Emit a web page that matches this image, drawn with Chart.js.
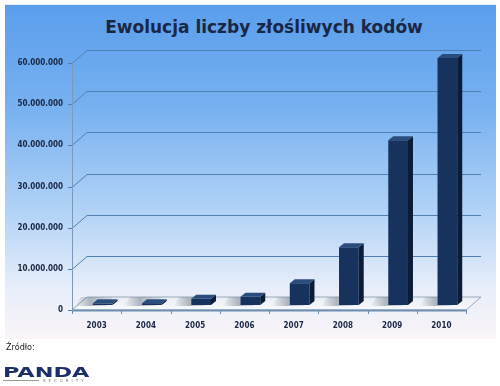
<!DOCTYPE html>
<html>
<head>
<meta charset="utf-8">
<script src="https://cdn.jsdelivr.net/npm/chart.js@4/dist/chart.umd.min.js"></script>
<style>
  html, body { margin: 0; padding: 0; background: #fff; }
  #wrap { position: relative; width: 500px; height: 386px; overflow: hidden; }
  #panel {
    position: absolute; left: 5px; top: 4px; width: 491px; height: 334px;
    background: linear-gradient(to bottom, #5a9eec 0%, #76b0f0 30%, #b2d3f6 62%, #e8eefa 85%, #faf5f8 100%);
    border-top: 1px solid #e6f0fb;
  }
  #title {
    position: absolute; left: 0; top: 17px; width: 528px; text-align: center;
    font: bold 17px "DejaVu Sans", Verdana, sans-serif; color: #1a2744;
  }
  #src {
    position: absolute; left: 6px; top: 342px;
    font: 9px "DejaVu Sans Condensed", "DejaVu Sans", sans-serif; color: #222;
  }
  #logo { position: absolute; left: 3px; top: 364px; width: 95px; height: 22px; }
  #logo .p {
    position: absolute; left: 0; top: 0; font: 900 14px "DejaVu Sans", sans-serif;
    color: #1b2f6a; transform: scaleX(1.6); transform-origin: left top;
  }
  #logo .s {
    position: absolute; left: 40px; top: 14px; font: 4px "DejaVu Sans", sans-serif;
    color: #777; letter-spacing: 3px;
  }
  #logo .l { position: absolute; left: 0; top: 16px; width: 36px; height: 1px; background: #999; }
  canvas { position: absolute; left: 0; top: 0; }
</style>
</head>
<body>
<div id="wrap">
  <div id="panel"></div>
  <div id="title">Ewolucja liczby złośliwych kodów</div>
  <canvas id="c" width="500" height="386"></canvas>
  <div id="src">Źródło:</div>
  <div id="logo"><div class="p">PANDA</div><div class="l"></div><div class="s">SECURITY</div></div>
</div>
<script>
var years = ['2003', '2004', '2005', '2006', '2007', '2008', '2009', '2010'];
var codes = [400000, 450000, 1500000, 2000000, 5300000, 14000000, 40000000, 60000000];
var yMax = 60000000;
var yStep = 10000000;

function dots(v) {
  return String(v).replace(/\B(?=(\d{3})+(?!\d))/g, '.');
}

// depth of the walls and of the bars
var WX = 15, WY = -13;
var BX = 6, BY = -5;
var DX = 5, DY = -4;

var scene3d = {
  id: 'scene3d',
  beforeDatasetsDraw: function(chart) {
    var ctx = chart.ctx, a = chart.chartArea;
    var ys = chart.scales.y;
    ctx.save();
    // back wall grid lines
    ctx.strokeStyle = '#4f80b4';
    ctx.lineWidth = 1;
    ys.ticks.forEach(function(t) {
      var y = Math.round(ys.getPixelForValue(t.value)) + 0.5;
      ctx.beginPath();
      ctx.moveTo(a.left, y);
      ctx.lineTo(a.left + WX, y + WY);
      if (t.value > 0) ctx.lineTo(a.right + WX, y + WY);
      ctx.stroke();
      ctx.beginPath();
      ctx.moveTo(a.left - 4, y);
      ctx.lineTo(a.left, y);
      ctx.stroke();
    });
    // left axis line
    ctx.strokeStyle = '#7d98b8';
    ctx.beginPath();
    ctx.moveTo(a.left + 0.5, a.top);
    ctx.lineTo(a.left + 0.5, a.bottom);
    ctx.stroke();
    // floor
    var b = a.bottom;
    var g = ctx.createLinearGradient(0, b + WY, 0, b);
    g.addColorStop(0, '#e9edf3');
    g.addColorStop(1, '#f8f9fb');
    ctx.fillStyle = g;
    ctx.beginPath();
    ctx.moveTo(a.left, b);
    ctx.lineTo(a.left + WX, b + WY);
    ctx.lineTo(a.right + WX, b + WY);
    ctx.lineTo(a.right, b);
    ctx.closePath();
    ctx.fill();
    ctx.strokeStyle = '#98a8ba';
    ctx.stroke();
    // bar shadows on the floor
    var meta = chart.getDatasetMeta(0);
    meta.data.forEach(function(bar) {
      var w = bar.width;
      var sx = bar.x - w / 2 + BX - 6, sy = b + BY - 1;
      var sg = ctx.createLinearGradient(sx - 12, 0, sx + w, 0);
      sg.addColorStop(0, 'rgba(120,130,145,0)');
      sg.addColorStop(0.5, 'rgba(120,130,145,0.55)');
      sg.addColorStop(1, 'rgba(120,130,145,0.2)');
      ctx.fillStyle = sg;
      ctx.beginPath();
      ctx.moveTo(sx - 12, sy + 2);
      ctx.lineTo(sx - 6, sy - 7);
      ctx.lineTo(sx + w + 6, sy - 7);
      ctx.lineTo(sx + w, sy + 2);
      ctx.closePath();
      ctx.fill();
    });
    // front edge of floor
    ctx.strokeStyle = '#6e8fb2';
    ctx.lineWidth = 2;
    ctx.beginPath();
    ctx.moveTo(a.left, b + 0.5);
    ctx.lineTo(a.right, b + 0.5);
    ctx.stroke();
    ctx.lineWidth = 1;
    for (var i = 0; i <= years.length; i++) {
      var x = Math.round(a.left + (a.right - a.left) * i / years.length) + 0.5;
      ctx.beginPath();
      ctx.moveTo(x, b);
      ctx.lineTo(x, b + 4);
      ctx.stroke();
    }
    ctx.restore();
    ctx.save();
    ctx.translate(BX, BY);
  },
  afterDatasetsDraw: function(chart) {
    var ctx = chart.ctx;
    var meta = chart.getDatasetMeta(0);
    meta.data.forEach(function(bar) {
      var l = bar.x - bar.width / 2, r = bar.x + bar.width / 2;
      var t = bar.y, bt = bar.base;
      // side
      ctx.fillStyle = '#0b1c38';
      ctx.beginPath();
      ctx.moveTo(r, t);
      ctx.lineTo(r + DX, t + DY);
      ctx.lineTo(r + DX, bt + DY);
      ctx.lineTo(r, bt);
      ctx.closePath();
      ctx.fill();
      // top
      ctx.fillStyle = '#2b4d7e';
      ctx.beginPath();
      ctx.moveTo(l, t);
      ctx.lineTo(l + DX, t + DY);
      ctx.lineTo(r + DX, t + DY);
      ctx.lineTo(r, t);
      ctx.closePath();
      ctx.fill();
    });
    ctx.restore();
  }
};

var tickFont = { family: 'DejaVu Sans Condensed', weight: 'bold', size: 8 };

new Chart(document.getElementById('c'), {
  type: 'bar',
  data: {
    labels: years,
    datasets: [{
      data: codes,
      backgroundColor: '#17325c',
      borderWidth: 0,
      barPercentage: 0.8,
      categoryPercentage: 0.5
    }]
  },
  options: {
    responsive: false,
    animation: false,
    events: [],
    layout: { padding: { left: 0, top: 63, right: 34, bottom: 0 } },
    plugins: { legend: { display: false }, tooltip: { enabled: false } },
    scales: {
      x: {
        grid: { display: false, drawTicks: false },
        border: { display: false },
        ticks: { padding: 11, color: '#1a2744', font: tickFont },
        afterFit: function(s) { s.height = 76; }
      },
      y: {
        min: 0,
        max: yMax,
        grid: { display: false, drawTicks: false },
        border: { display: false },
        ticks: {
          stepSize: yStep,
          padding: 9,
          color: '#1a2744',
          font: tickFont,
          callback: function(v) { return dots(v); }
        },
        afterFit: function(s) { s.width = 72; }
      }
    }
  },
  plugins: [scene3d]
});
</script>
</body>
</html>
